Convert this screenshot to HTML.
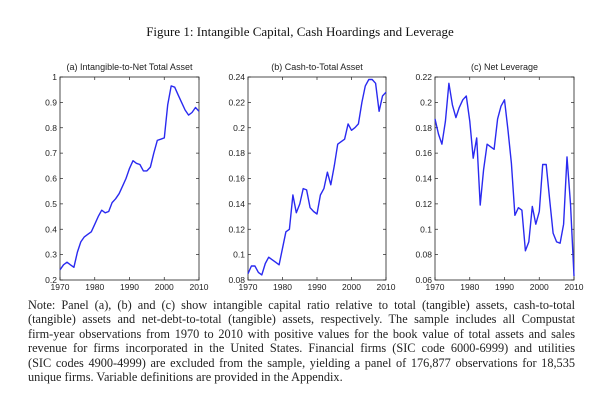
<!DOCTYPE html>
<html><head><meta charset="utf-8">
<style>
html,body{margin:0;padding:0;background:#fff;}
body{width:600px;height:416px;position:relative;overflow:hidden;font-family:"Liberation Serif",serif;}
#title{position:absolute;left:0;width:600px;top:24px;text-align:center;font-size:13px;color:#111;}
#note{position:absolute;left:28px;width:547px;top:298px;font-size:12.3px;line-height:14.4px;color:#222;}
#note div{text-align:justify;text-align-last:justify;white-space:nowrap;}
#note div.last{text-align-last:left;}
svg{position:absolute;left:0;top:0;}
</style></head><body>
<div id="title">Figure 1: Intangible Capital, Cash Hoardings and Leverage</div>
<svg id="chart" width="600" height="416"></svg>
<div id="note">
<div>Note: Panel (a), (b) and (c) show intangible capital ratio relative to total (tangible) assets, cash-to-total</div>
<div>(tangible) assets and net-debt-to-total (tangible) assets, respectively. The sample includes all Compustat</div>
<div>firm-year observations from 1970 to 2010 with positive values for the book value of total assets and sales</div>
<div>revenue for firms incorporated in the United States. Financial firms (SIC code 6000-6999) and utilities</div>
<div>(SIC codes 4900-4999) are excluded from the sample, yielding a panel of 176,877 observations for 18,535</div>
<div class="last">unique firms. Variable definitions are provided in the Appendix.</div>
</div>
<script>
const years = [];
for (let y = 1970; y <= 2010; y++) years.push(y);
const xTicks = [1970, 1980, 1990, 2000, 2010];
const intangible = [.24,.26,.27,.26,.25,.31,.35,.37,.38,.39,.42,.45,.475,.465,.47,.505,.52,.54,.57,.60,.64,.67,.66,.655,.63,.63,.645,.70,.75,.755,.76,.89,.965,.96,.93,.90,.87,.85,.86,.88,.865];
const cash = [.085,.091,.091,.086,.084,.093,.098,.096,.094,.092,.105,.118,.12,.147,.133,.14,.152,.151,.137,.134,.132,.147,.152,.165,.155,.17,.187,.189,.191,.203,.198,.2,.203,.22,.233,.238,.238,.235,.213,.225,.228];
const leverage = [.187,.175,.167,.185,.215,.198,.188,.196,.202,.205,.185,.156,.172,.119,.147,.167,.165,.163,.187,.197,.202,.178,.152,.111,.117,.115,.083,.09,.118,.104,.114,.151,.151,.123,.097,.09,.089,.104,.157,.12,.063];
const ticksA = ["0.2","0.3","0.4","0.5","0.6","0.7","0.8","0.9","1"];
const ticksB = ["0.08","0.1","0.12","0.14","0.16","0.18","0.2","0.22","0.24"];
const ticksC = ["0.06","0.08","0.1","0.12","0.14","0.16","0.18","0.2","0.22"];
const titles = ["(a) Intangible-to-Net Total Asset","(b) Cash-to-Total Asset","(c) Net Leverage"];

const svg = document.getElementById('chart');
const NS = 'http://www.w3.org/2000/svg';
function mk(tag, attrs){const e=document.createElementNS(NS,tag);for(const k in attrs)e.setAttribute(k,attrs[k]);svg.appendChild(e);return e;}

const panels = [
 {x0:60,x1:199,data:intangible,ticks:ticksA,key:'a'},
 {x0:248,x1:386,data:cash,ticks:ticksB,key:'b'},
 {x0:435,x1:574,data:leverage,ticks:ticksC,key:'c'}
];
const yTop = 77, yBot = 280;
panels.forEach((p, i) => {
  const ymin = parseFloat(p.ticks[0]), ymax = parseFloat(p.ticks[p.ticks.length-1]);
  const sx = v => p.x0 + (v - 1970) / 40 * (p.x1 - p.x0);
  const sy = v => yBot - (v - ymin) / (ymax - ymin) * (yBot - yTop);
  const box = mk('rect',{x:p.x0,y:yTop,width:p.x1-p.x0,height:yBot-yTop,fill:'none',stroke:'#222','stroke-width':0.8});
  
  
  const t = mk('text',{x:(p.x0+p.x1)/2,y:yTop-7,'text-anchor':'middle','font-family':'Liberation Sans, sans-serif','font-size':9,fill:'#222'});
  t.textContent = titles[i];
  
  
  p.ticks.forEach(tl => {
    const v = parseFloat(tl), y = sy(v);
    mk('line',{x1:p.x0,x2:p.x0+3,y1:y,y2:y,stroke:'#222','stroke-width':0.7});
    mk('line',{x1:p.x1,x2:p.x1-3,y1:y,y2:y,stroke:'#222','stroke-width':0.7});
    const tx = mk('text',{x:p.x0-3,y:y+3,'text-anchor':'end','font-family':'Liberation Sans, sans-serif','font-size':8.5,fill:'#222'});
    tx.textContent = tl;
    
    
  });
  xTicks.forEach(yr => {
    const x = sx(yr);
    mk('line',{x1:x,x2:x,y1:yBot,y2:yBot-3,stroke:'#222','stroke-width':0.7});
    mk('line',{x1:x,x2:x,y1:yTop,y2:yTop+3,stroke:'#222','stroke-width':0.7});
    const tx = mk('text',{x:x,y:yBot+10,'text-anchor':'middle','font-family':'Liberation Sans, sans-serif','font-size':8.5,fill:'#222'});
    tx.textContent = yr;
    
    
  });
  const pts = p.data.map((v, j) => sx(years[j]).toFixed(1) + ',' + sy(v).toFixed(1)).join(' ');
  const line = mk('polyline',{points:pts,fill:'none',stroke:'#2a2af0','stroke-width':1.4,'stroke-linejoin':'round'});
  
  
});
</script>
</body></html>
